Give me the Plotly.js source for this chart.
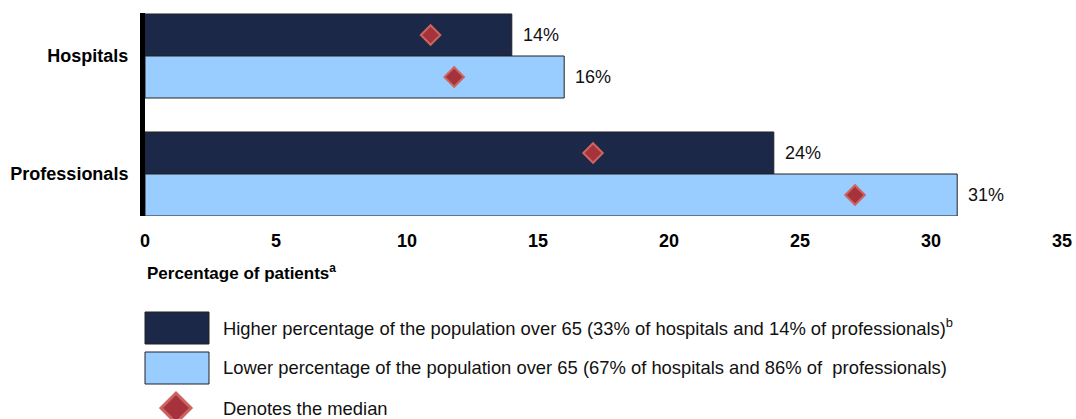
<!DOCTYPE html>
<html>
<head>
<meta charset="utf-8">
<script src="https://cdn.plot.ly/plotly-3.0.1.min.js"></script>
<style>
  html, body { margin: 0; padding: 0; background: #fff; }
  #chart { width: 1076px; height: 419px; }
</style>
</head>
<body>
<div id="chart"></div>
<script>
// Share of patients by provider type, split by county age profile
const categories = ['Hospitals', 'Professionals'];
const higherOver65 = [14, 24];      // bar values, %
const lowerOver65 = [16, 31];       // bar values, %
const medianHigher = [10.9, 17.1];  // median markers, %
const medianLower = [11.8, 27.1];   // median markers, %
const xTicks = [0, 5, 10, 15, 20, 25, 30, 35];

const legendHigher = 'Higher percentage of the population over 65 (33% of hospitals and 14% of professionals)<sup>b</sup>';
const legendLower = 'Lower percentage of the population over 65 (67% of hospitals and 86% of  professionals)';
const legendMedian = 'Denotes the median';
const axisTitle = 'Percentage of patients<sup>a</sup>';

const DARK = '#1b2847';
const LIGHT = '#99ccff';
const EDGE = '#222222';
const DIAMOND_FILL = '#a6333b';
const DIAMOND_EDGE = '#cc6460';
const FONT = '"Liberation Sans", Arial, sans-serif';

const W = 1076, H = 419;
const M = { l: 145, r: 14, t: 13, b: 203 };
const plotW = W - M.l - M.r, plotH = H - M.t - M.b;
const px = x => (x - M.l) / plotW;
const py = y => (H - M.b - y) / plotH;

const idx = categories.map((_, i) => i);
const BW = 0.356;

const barTrace = (vals, off, color, name) => ({
  type: 'bar', orientation: 'h', name,
  x: vals, y: idx, width: BW, offset: off,
  marker: { color, line: { color: EDGE, width: 1 } },
  hoverinfo: 'x+name'
});

const medianTrace = (vals, shift) => ({
  type: 'scatter', mode: 'markers', name: 'Median',
  x: vals, y: idx.map(i => i + shift),
  marker: { symbol: 'diamond', size: 15, color: DIAMOND_FILL,
            line: { color: DIAMOND_EDGE, width: 2 } },
  cliponaxis: false
});

const data = [
  barTrace(higherOver65, -BW, DARK, 'Higher over 65'),
  barTrace(lowerOver65, 0, LIGHT, 'Lower over 65'),
  medianTrace(medianHigher, -BW / 2),
  medianTrace(medianLower, BW / 2)
];

const annotations = [];
const valueLabel = (v, y) => ({
  x: v, y, xref: 'x', yref: 'y', text: v + '%', showarrow: false,
  xanchor: 'left', xshift: 9, font: { family: FONT, size: 18, color: '#111' }
});
higherOver65.forEach((v, i) => annotations.push(valueLabel(v, i - BW / 2)));
lowerOver65.forEach((v, i) => annotations.push(valueLabel(v, i + BW / 2)));

annotations.push({
  x: px(145), y: py(272), xref: 'paper', yref: 'paper', xanchor: 'left', yanchor: 'middle',
  text: '<b>' + axisTitle + '</b>', showarrow: false,
  font: { family: FONT, size: 17, color: '#000' }
});

const legendRows = [
  { text: legendHigher, y: 327 },
  { text: legendLower, y: 367 },
  { text: legendMedian, y: 408 }
];
legendRows.forEach(r => annotations.push({
  x: px(221), y: py(r.y), xref: 'paper', yref: 'paper', xanchor: 'left', yanchor: 'middle',
  text: r.text, showarrow: false, font: { family: FONT, size: 18.4, color: '#111' }
}));

const shapes = [
  { type: 'rect', xref: 'paper', yref: 'paper', x0: px(145), x1: px(209), y0: py(312), y1: py(344),
    fillcolor: DARK, line: { color: EDGE, width: 1 } },
  { type: 'rect', xref: 'paper', yref: 'paper', x0: px(145), x1: px(209), y0: py(352), y1: py(384),
    fillcolor: LIGHT, line: { color: EDGE, width: 1 } }
];
// legend diamond
const dc = { x: 176, y: 408, r: 15 };
shapes.push({
  type: 'path', xref: 'paper', yref: 'paper',
  path: `M ${px(dc.x - dc.r)} ${py(dc.y)} L ${px(dc.x)} ${py(dc.y - dc.r)} L ${px(dc.x + dc.r)} ${py(dc.y)} L ${px(dc.x)} ${py(dc.y + dc.r)} Z`,
  fillcolor: DIAMOND_FILL, line: { color: DIAMOND_EDGE, width: 3 }
});

const layout = {
  width: W, height: H, margin: M,
  paper_bgcolor: '#fff', plot_bgcolor: '#fff',
  showlegend: false, barmode: 'overlay',
  font: { family: FONT, color: '#000' },
  xaxis: {
    range: [0, 35], tickvals: xTicks, ticktext: xTicks.map(t => '<b>' + t + '</b>'),
    showgrid: false, zeroline: false, showline: false, ticks: '',
    ticklabelstandoff: 12,
    tickfont: { family: FONT, size: 18, color: '#000' }
  },
  yaxis: {
    range: [1 + 42 / 118, -43 / 118],
    tickvals: idx, ticktext: categories.map(c => '<b>' + c + '</b>'),
    showgrid: false, zeroline: false, ticks: '',
    showline: true, linecolor: '#000', linewidth: 5,
    ticklabelstandoff: 8,
    tickfont: { family: FONT, size: 18, color: '#000' }
  },
  annotations, shapes
};

Plotly.newPlot('chart', data, layout, { displayModeBar: false, staticPlot: true });
</script>
</body>
</html>
